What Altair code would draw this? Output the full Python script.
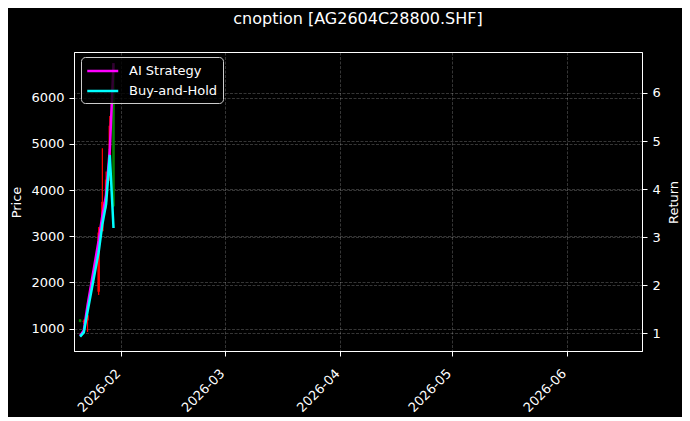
import altair as alt
import pandas as pd

# ---- data ----
dates = ["2026-01-21", "2026-01-22", "2026-01-23", "2026-01-26",
         "2026-01-27", "2026-01-28", "2026-01-29", "2026-01-30"]
open_p = [1200, 1150, 1180, 1800, 3110, 3750, 4300, 6700]
high_p = [1210, 1200, 1300, 3200, 4905, 4400, 5600, 6737]
low_p = [1140, 1100, 930, 1730, 3107, 3600, 4200, 3628]
close_p = [1150, 1170, 1290, 3080, 3744, 4225, 5390, 3650]

ai_ret = [0.95, 1.06, 1.58, 2.93, 3.45, 3.88, 4.82, 6.62]
bh_ret = [0.93, 1.02, 1.45, 2.69, 3.27, 3.69, 4.71, 3.19]

series_names = ["AI Strategy", "Buy-and-Hold"]
series_colors = ["#ff00ff", "#00ffff"]

price_ticks = [1000, 2000, 3000, 4000, 5000, 6000]
return_ticks = [1, 2, 3, 4, 5, 6]
month_ticks = ["2026-02-01", "2026-03-01", "2026-04-01", "2026-05-01", "2026-06-01"]
x_range = ["2026-01-20 17:00", "2026-06-19 22:00"]

price_domain = [518, 6985]
return_domain = [0.632, 6.852]

up_color = "#ff0000"
down_color = "#008000"

FONT = "DejaVu Sans"


def ms(s):
    return int(pd.Timestamp(s, tz="UTC").value // 10**6)


candles = pd.DataFrame({"t": [ms(d) for d in dates], "open": open_p, "high": high_p,
                        "low": low_p, "close": close_p})
lines = pd.DataFrame({
    "t": [ms(d) for d in dates] * 2,
    "series": [series_names[0]] * len(dates) + [series_names[1]] * len(dates),
    "ret": ai_ret + bh_ret,
})

x_enc = alt.X(
    "t:T",
    scale=alt.Scale(type="utc", domain=[ms(v) for v in x_range]),
    axis=alt.Axis(
        values=[ms(v) for v in month_ticks],
        labelExpr="utcFormat(datum.value, '%Y-%m')",
        labelAngle=315, labelAlign="right", labelBaseline="alphabetic",
        labelPadding=18, title=None, grid=True,
    ),
)

price_scale = alt.Scale(domain=price_domain, nice=False, zero=False)
price_axis = alt.Axis(values=price_ticks, format="d", orient="left", title="Price",
                      grid=True, labelPadding=5, titleAngle=270, titleX=-58, titleY=150,
                      titleAlign="center", titleBaseline="middle")

cond = alt.condition("datum.close >= datum.open", alt.value(up_color), alt.value(down_color))

wick = alt.Chart(candles).mark_rule(strokeWidth=1.2, clip=True).encode(
    x=x_enc,
    y=alt.Y("low:Q", scale=price_scale, axis=price_axis),
    y2="high:Q",
    color=cond,
)
body = alt.Chart(candles).mark_bar(size=2.5, clip=True).encode(
    x=x_enc,
    y=alt.Y("open:Q", scale=price_scale, axis=price_axis),
    y2="close:Q",
    color=cond,
)
price_layer = alt.layer(wick, body)

line_chart = alt.Chart(lines).mark_line(strokeWidth=2.5, clip=True).encode(
    x=x_enc,
    y=alt.Y("ret:Q",
            scale=alt.Scale(domain=return_domain, nice=False, zero=False),
            axis=alt.Axis(values=return_ticks, format="d", orient="right", title="Return",
                          grid=True, labelPadding=5, titleAngle=270, titleX=31, titleY=150,
                          titleAlign="center", titleBaseline="middle")),
    color=alt.Color("series:N",
                    scale=alt.Scale(domain=series_names, range=series_colors),
                    legend=alt.Legend(title=None, orient="none", legendX=7, legendY=5)),
)

chart = alt.layer(price_layer, line_chart).resolve_scale(y="independent").properties(
    width=568,
    height=299,
    autosize=alt.AutoSizeParams(type="none"),
    padding={"left": 66, "top": 44, "right": 40, "bottom": 66},
    title=alt.Title("cnoption [AG2604C28800.SHF]", fontSize=16, color="white",
                    font=FONT, fontWeight="normal", anchor="middle",
                    baseline="bottom", offset=9),
).configure(
    background="#000000", font=FONT,
).configure_view(
    stroke="#ffffff", strokeWidth=1,
).configure_axis(
    labelColor="white", titleColor="white", tickColor="white", domainColor="white",
    labelFont=FONT, titleFont=FONT, labelFontSize=13, titleFontSize=13,
    titleFontWeight="normal", tickSize=5, tickWidth=1,
    gridColor="white", gridOpacity=0.3, gridDash=[3, 1.5], gridWidth=0.7,
).configure_legend(
    fillColor="rgba(0,0,0,0.8)", strokeColor="#cccccc", cornerRadius=4,
    padding=5, labelColor="white", labelFont=FONT, labelFontSize=13,
    symbolType="M-1,0H3", symbolSize=240, symbolStrokeWidth=2.5,
    labelOffset=25, rowPadding=4,
)

chart.save("out.html", embed_options={"renderer": "svg", "actions": False})
